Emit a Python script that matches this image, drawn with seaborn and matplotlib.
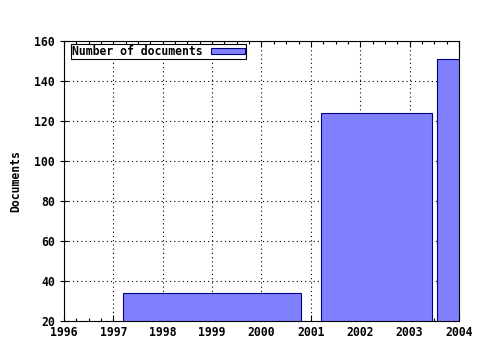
import matplotlib
matplotlib.use("Agg")
import matplotlib.pyplot as plt
import seaborn as sns
import numpy as np
from matplotlib.ticker import MultipleLocator

# Data
bar_starts = [1997.2, 2001.2, 2003.56]
bar_ends = [2000.8, 2003.46, 2004.6]
doc_counts = [34, 124, 151]
x_ticks = [1996, 1997, 1998, 1999, 2000, 2001, 2002, 2003, 2004]
y_ticks = [20, 40, 60, 80, 100, 120, 140, 160]

sns.set_theme(style="white")
plt.rcParams['font.family'] = ['DejaVu Sans Mono']
plt.rcParams['font.weight'] = 'bold'
plt.rcParams['text.color'] = 'black'
plt.rcParams['axes.labelcolor'] = 'black'
plt.rcParams['xtick.color'] = 'black'
plt.rcParams['ytick.color'] = 'black'

fig = plt.figure(figsize=(4.8, 3.5), dpi=100)
ax = fig.add_axes([0.1333, 0.0829, 0.8229, 0.8000])

edges = []
for s, e in zip(bar_starts, bar_ends):
    edges += [s, e]
mids = [(s + e) / 2 for s, e in zip(bar_starts, bar_ends)]
sns.histplot(x=mids, weights=doc_counts, bins=edges, ax=ax,
             color="#8080ff", edgecolor="#000080", linewidth=0.8, alpha=1,
             label="Number of documents", zorder=2)

ax.set_xlim(1996, 2004)
ax.set_ylim(20, 160)
ax.set_xticks(x_ticks)
ax.set_yticks(y_ticks)
ax.xaxis.set_minor_locator(MultipleLocator(0.25))
ax.grid(True, which="major", color="black", linestyle=(0, (1.0, 2.8)), linewidth=0.8, zorder=0)
ax.set_axisbelow(True)
for sp in ax.spines.values():
    sp.set_visible(True)
    sp.set_color("black")
    sp.set_linewidth(0.8)
ax.tick_params(axis="x", which="both", direction="in", top=True, bottom=True, length=4, width=0.8, labelsize=8.3, colors="black")
ax.tick_params(axis="x", which="minor", length=2)
ax.tick_params(axis="y", which="both", direction="inout", left=True, length=6, width=0.8, labelsize=8.3, colors="black")
ax.set_xlabel("")
ax.set_ylabel("Documents", fontsize=8.3, fontweight="bold", labelpad=9, color="black")

leg = ax.legend(loc="upper left", bbox_to_anchor=(0.0177, 0.989), markerfirst=False,
                fancybox=False, framealpha=1, edgecolor="black", fontsize=8.3,
                borderpad=0.08, handlelength=2.95, handleheight=0.43,
                borderaxespad=0.0, handletextpad=0.75)
leg.get_frame().set_linewidth(0.8)
for t in leg.get_texts():
    t.set_color("black")

fig.savefig("out.png", dpi=100)
